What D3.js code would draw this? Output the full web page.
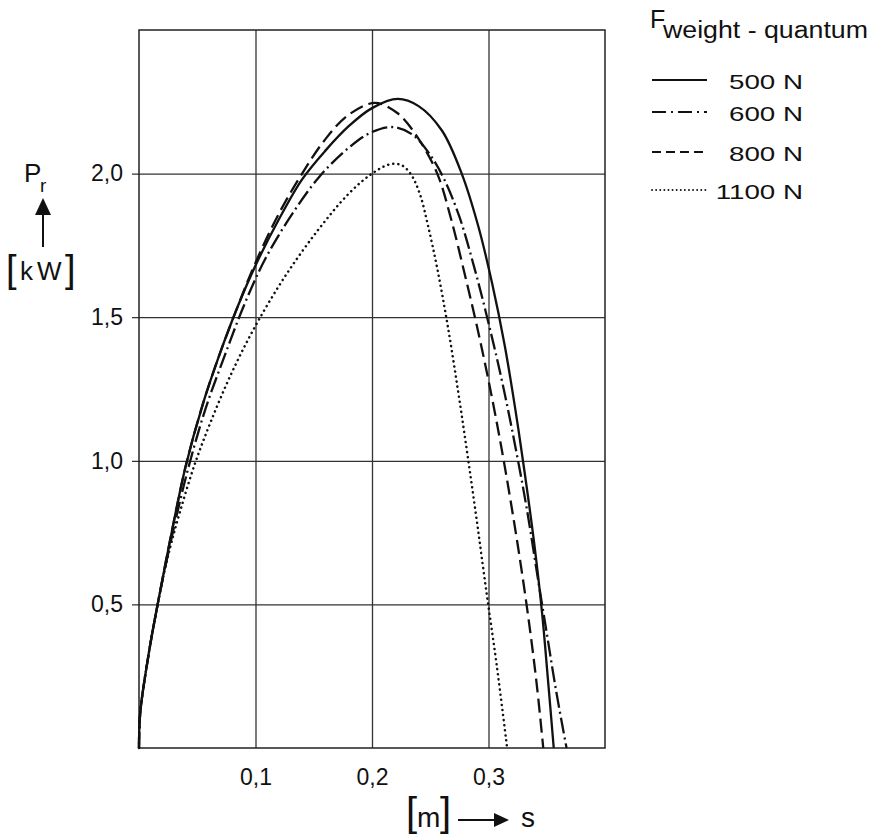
<!DOCTYPE html>
<html>
<head>
<meta charset="utf-8">
<script src="https://cdn.jsdelivr.net/npm/d3@7"></script>
<style>
  body { margin: 0; background: #fff; }
  text { font-family: "Liberation Sans", Arial, Helvetica, sans-serif; fill: #111; }
</style>
</head>
<body>
<svg id="chart" width="883" height="840"></svg>
<script>
// values (s in m, P_r in kW)
const xTicks = [0.1, 0.2, 0.3];
const yTicks = [0.5, 1.0, 1.5, 2.0];

const labels = ["500 N", "600 N", "800 N", "1100 N"];

// F = 500 N
const s500 = [[0,0],[0.001,0.12],[0.008,0.32],[0.016,0.5],[0.028,0.75],[0.04,0.98],[0.055,1.2],[0.07,1.38],[0.085,1.54],[0.1,1.68],[0.12,1.84],[0.14,1.98],[0.16,2.08],[0.18,2.165],[0.2,2.228],[0.222,2.26],[0.24,2.235],[0.26,2.15],[0.277,2.0],[0.291,1.82],[0.303,1.62],[0.314,1.4],[0.323,1.18],[0.331,0.96],[0.339,0.72],[0.346,0.47],[0.351,0.24],[0.356,0]];

// F = 600 N
const s600 = [[0,0],[0.001,0.12],[0.008,0.32],[0.016,0.5],[0.029,0.75],[0.042,0.97],[0.057,1.18],[0.073,1.36],[0.09,1.54],[0.108,1.7],[0.13,1.85],[0.155,1.99],[0.18,2.09],[0.2,2.145],[0.218,2.162],[0.235,2.135],[0.25,2.065],[0.262,1.98],[0.275,1.85],[0.288,1.67],[0.3,1.48],[0.312,1.27],[0.323,1.05],[0.333,0.83],[0.342,0.6],[0.35,0.4],[0.358,0.2],[0.367,0]];

// F = 800 N
const s800 = [[0,0],[0.001,0.12],[0.008,0.32],[0.016,0.5],[0.028,0.75],[0.04,0.98],[0.055,1.2],[0.07,1.38],[0.085,1.54],[0.1,1.69],[0.12,1.86],[0.14,2.0],[0.16,2.12],[0.18,2.205],[0.2026,2.246],[0.222,2.21],[0.239,2.127],[0.256,2.0],[0.268,1.84],[0.279,1.66],[0.29,1.47],[0.3,1.28],[0.31,1.07],[0.319,0.86],[0.328,0.63],[0.336,0.4],[0.342,0.2],[0.347,0]];

// F = 1100 N
const s1100 = [[0,0],[0.001,0.12],[0.008,0.32],[0.016,0.5],[0.025,0.67],[0.035,0.82],[0.048,0.99],[0.062,1.14],[0.08,1.31],[0.1,1.47],[0.125,1.64],[0.153,1.8],[0.18,1.93],[0.2,2.0],[0.215,2.032],[0.225,2.03],[0.233,2.0],[0.241,1.93],[0.248,1.82],[0.256,1.67],[0.265,1.47],[0.274,1.24],[0.282,1.02],[0.29,0.79],[0.298,0.55],[0.307,0.29],[0.316,0]];

const allSeries = [s500, s600, s800, s1100];
const dashes = [null, "16,4,2,4", "14,6", "0.1,5"];

const svg = d3.select("#chart");
const mLeft = 139, mRight = 605, mTop = 30, mBottom = 748;

const x = d3.scaleLinear().domain([0, 0.4]).range([mLeft, mRight]);
const y = d3.scaleLinear().domain([0, 2.5]).range([mBottom, mTop]);

const comma = d => d.toFixed(1).replace(".", ",");

// x grid + labels
const gx = svg.append("g")
    .attr("transform", `translate(0,${mBottom})`)
    .call(d3.axisBottom(x).tickValues(xTicks).tickSize(-(mBottom - mTop)).tickSizeOuter(0).tickPadding(21).tickFormat(comma));
gx.select(".domain").remove();
gx.selectAll(".tick line").attr("stroke", "#333").attr("stroke-width", 1.3);
gx.selectAll(".tick text").attr("font-size", 23).attr("fill", "#111")
    .style("font-family", '"Liberation Sans", Arial, sans-serif');

// y grid + labels
const gy = svg.append("g")
    .attr("transform", `translate(${mLeft},0)`)
    .call(d3.axisLeft(y).tickValues(yTicks).tickSize(-(mRight - mLeft)).tickSizeOuter(0).tickPadding(16).tickFormat(comma));
gy.select(".domain").remove();
gy.selectAll(".tick line").attr("x1", -7).attr("stroke", "#333").attr("stroke-width", 1.3);
gy.selectAll(".tick text").attr("font-size", 23).attr("fill", "#111")
    .style("font-family", '"Liberation Sans", Arial, sans-serif');

// frame
svg.append("rect")
    .attr("x", mLeft).attr("y", mTop)
    .attr("width", mRight - mLeft).attr("height", mBottom - mTop)
    .attr("fill", "none").attr("stroke", "#222").attr("stroke-width", 1.5);

// curves
const line = d3.line()
    .x(d => x(d[0]))
    .y(d => y(d[1]))
    .curve(d3.curveCatmullRom.alpha(0.5));

svg.append("g").selectAll("path")
    .data(allSeries)
    .join("path")
    .attr("d", line)
    .attr("fill", "none")
    .attr("stroke", "#111")
    .attr("stroke-width", (d, i) => i == 3 ? 2.5 : 2.3)
    .attr("stroke-linecap", (d, i) => i == 3 ? "round" : "butt")
    .attr("stroke-dasharray", (d, i) => dashes[i]);

// legend
const lg = svg.append("g");
lg.append("text").attr("x", 650).attr("y", 28).attr("font-size", 25).text("F");
lg.append("text").attr("x", 663).attr("y", 38).attr("font-size", 23)
    .attr("textLength", 205).attr("lengthAdjust", "spacingAndGlyphs")
    .text("weight - quantum");

const rowY = [89, 121, 161, 199];
const legendDash = [null, "14,5,2,5", "9,5", "0.1,4"];
labels.forEach((lab, i) => {
    lg.append("line")
        .attr("x1", 652).attr("x2", i == 3 ? 709 : 707)
        .attr("y1", rowY[i] - 9).attr("y2", rowY[i] - 9)
        .attr("stroke", "#111").attr("stroke-width", i == 3 ? 1.8 : 2)
        .attr("stroke-linecap", i == 3 ? "round" : "butt")
        .attr("stroke-dasharray", legendDash[i]);
    const t = lg.append("text").attr("x", 803).attr("y", rowY[i])
        .attr("font-size", 21).attr("text-anchor", "end").text(lab);
    const w = t.node().getComputedTextLength();
    t.attr("textLength", w * 1.32).attr("lengthAdjust", "spacingAndGlyphs");
});

// y axis title: P_r, arrow, [kW]
svg.append("text").attr("x", 24).attr("y", 182).attr("font-size", 26).text("P");
svg.append("text").attr("x", 40).attr("y", 192).attr("font-size", 19).text("r");
svg.append("line").attr("x1", 43).attr("x2", 43).attr("y1", 247).attr("y2", 212)
    .attr("stroke", "#111").attr("stroke-width", 2);
svg.append("path").attr("d", "M43,198 L35,215 L51,215 Z").attr("fill", "#111");
svg.append("text").attr("x", 6).attr("y", 282).attr("font-size", 38).attr("font-weight", 300).text("[");
svg.append("text").attr("x", 20).attr("y", 280).attr("font-size", 26).attr("letter-spacing", 4).text("kW");
svg.append("text").attr("x", 65).attr("y", 282).attr("font-size", 38).attr("font-weight", 300).text("]");

// x axis title: [m] -> s
svg.append("text").attr("x", 406).attr("y", 826).attr("font-size", 40).text("[");
svg.append("text").attr("x", 417).attr("y", 827).attr("font-size", 28).text("m");
svg.append("text").attr("x", 440).attr("y", 826).attr("font-size", 40).text("]");
svg.append("line").attr("x1", 458).attr("x2", 497).attr("y1", 820).attr("y2", 820)
    .attr("stroke", "#111").attr("stroke-width", 2);
svg.append("path").attr("d", "M509,820 L494,813 L494,827 Z").attr("fill", "#111");
svg.append("text").attr("x", 521).attr("y", 827).attr("font-size", 28).text("s");
</script>
</body>
</html>
